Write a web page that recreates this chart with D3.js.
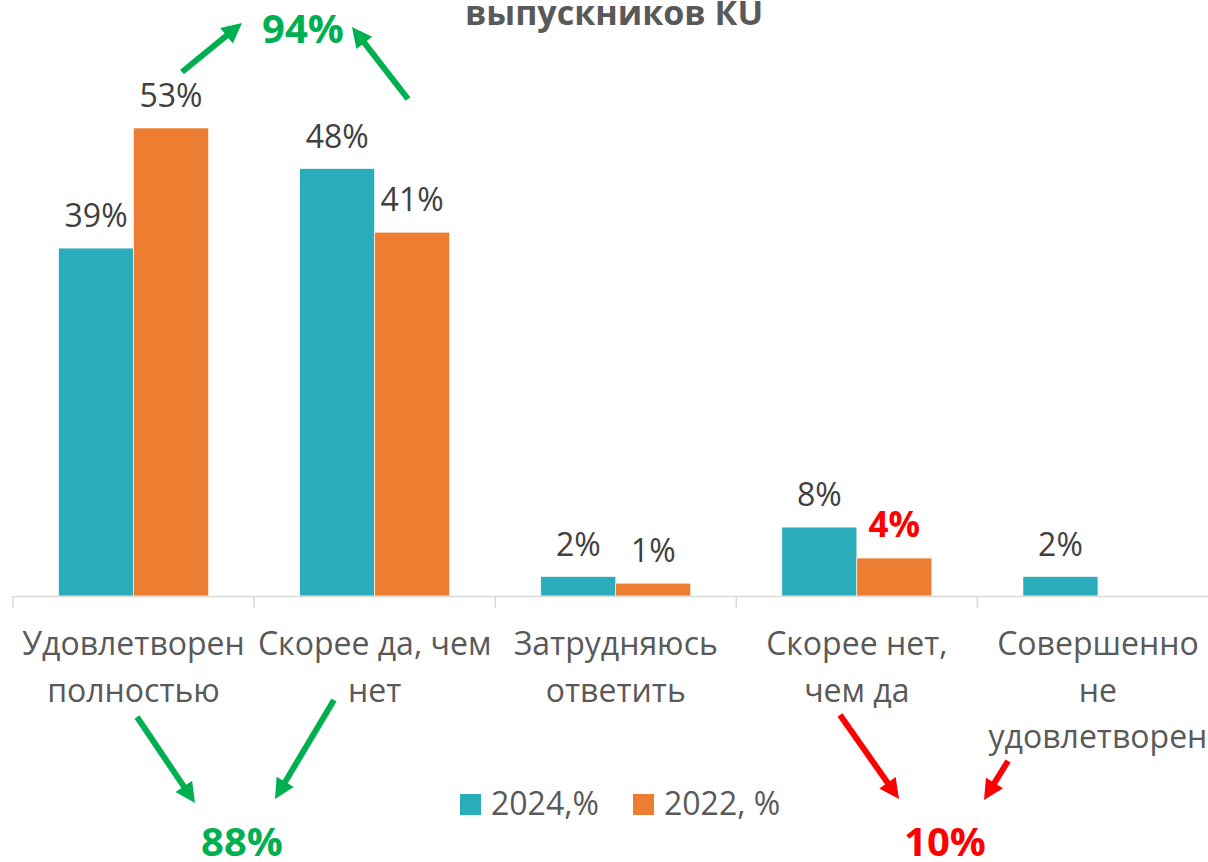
<!DOCTYPE html>
<html>
<head>
<meta charset="utf-8">
<script src="https://cdn.jsdelivr.net/npm/d3@7"></script>
<style>
  body { margin: 0; background: #fff; }
  svg { display: block; font-family: "Open Sans", sans-serif; }
</style>
</head>
<body>
<div id="container"></div>
<script>
// data
let categories = [
  ["Удовлетворен", "полностью"],
  ["Скорее да, чем", "нет"],
  ["Затрудняюсь", "ответить"],
  ["Скорее нет,", "чем да"],
  ["Совершенно", "не", "удовлетворен"]
];
let seriesNames = ["2024,%", "2022, %"];
let values2024 = [39.4, 48.4, 2.2, 7.8, 2.2];
let values2022 = [53.0, 41.2, 1.45, 4.3, null];
let colors = ["#2AACBB", "#ED7D31"];

let w = 1208;
let h = 862;
let baseY = 596;

let svg = d3.select("#container")
  .append("svg")
  .attr("width", w)
  .attr("height", h);

let x0 = d3.scaleBand()
  .domain(d3.range(categories.length))
  .range([13, 13 + 241.1 * 5])
  .paddingInner(0.378)
  .paddingOuter(0.189);

let x1 = d3.scaleBand()
  .domain([0, 1])
  .range([0, x0.bandwidth()]);

let y = d3.scaleLinear()
  .domain([0, 53])
  .range([baseY, 128]);

// title (only the last line is visible)
svg.append("text")
  .attr("x", 614)
  .attr("y", 25)
  .attr("text-anchor", "middle")
  .attr("font-size", 34)
  .attr("font-weight", "bold")
  .attr("fill", "#595959")
  .text("выпускников КU");

// bars
let rows = [];
categories.forEach(function(c, i) {
  rows.push({cat: i, s: 0, v: values2024[i]});
  rows.push({cat: i, s: 1, v: values2022[i]});
});
rows = rows.filter(function(d) { return d.v != null; });

function isHighlight(d) { return d.cat == 3 && d.s == 1; }

svg.selectAll("rect.bar")
  .data(rows)
  .enter()
  .append("rect")
  .attr("class", "bar")
  .attr("x", function(d) { return x0(d.cat) + x1(d.s); })
  .attr("width", x1.bandwidth())
  .attr("y", function(d) { return y(d.v); })
  .attr("height", function(d) { return baseY - y(d.v); })
  .attr("fill", function(d) { return colors[d.s]; })
  .attr("stroke", "#fff")
  .attr("stroke-width", 0.6);

// value labels
svg.selectAll("text.val")
  .data(rows)
  .enter()
  .append("text")
  .attr("class", "val")
  .attr("x", function(d) { return x0(d.cat) + x1(d.s) + x1.bandwidth() / 2; })
  .attr("y", function(d) { return y(d.v) - 21; })
  .attr("text-anchor", "middle")
  .attr("font-size", function(d) { return isHighlight(d) ? 35 : 32; })
  .attr("font-weight", function(d) { return isHighlight(d) ? "bold" : "normal"; })
  .attr("fill", function(d) { return isHighlight(d) ? "#FF0000" : "#404040"; })
  .text(function(d) { return Math.round(d.v) + "%"; });

// axis
let axis = svg.append("g");
axis.append("line")
  .attr("x1", 12).attr("x2", w)
  .attr("y1", baseY + 0.5).attr("y2", baseY + 0.5)
  .attr("stroke", "#d9d9d9").attr("stroke-width", 1.5);
axis.selectAll("line.tick")
  .data(d3.range(categories.length))
  .enter()
  .append("line")
  .attr("class", "tick")
  .attr("x1", function(d) { return x0(d) - x0.step() * x0.paddingOuter(); })
  .attr("x2", function(d) { return x0(d) - x0.step() * x0.paddingOuter(); })
  .attr("y1", baseY).attr("y2", baseY + 12)
  .attr("stroke", "#d9d9d9").attr("stroke-width", 1.5);

// category labels
let catText = svg.selectAll("text.cat")
  .data(categories)
  .enter()
  .append("text")
  .attr("class", "cat")
  .attr("text-anchor", "middle")
  .attr("font-size", 32)
  .attr("fill", "#595959");
catText.selectAll("tspan")
  .data(function(d, i) { return d.map(function(t) { return {t: t, i: i}; }); })
  .enter()
  .append("tspan")
  .attr("x", function(d) { return x0(d.i) + x0.bandwidth() / 2; })
  .attr("y", function(d, j) { return 655 + j * 46.5; })
  .text(function(d) { return d.t; });

// legend
let legend = svg.append("g");
let legendX = [460, 633];
seriesNames.forEach(function(name, i) {
  legend.append("rect")
    .attr("x", legendX[i]).attr("y", 794)
    .attr("width", 21).attr("height", 21)
    .attr("fill", colors[i]);
  legend.append("text")
    .attr("x", legendX[i] + 31).attr("y", 815)
    .attr("font-size", 32)
    .attr("fill", "#595959")
    .text(name);
});

// annotations: arrows and totals
let green = "#00B050";
let red = "#FF0000";
let arrows = [
  {from: [182, 72], to: [242, 23], c: green},
  {from: [408, 99], to: [352, 27], c: green},
  {from: [137, 717], to: [195, 803], c: green},
  {from: [334, 700], to: [275, 799], c: green},
  {from: [840, 715], to: [899, 799], c: red},
  {from: [1008, 761], to: [984, 800], c: red}
];
let totals = [
  {text: "94%", x: 303, y: 43, c: green},
  {text: "88%", x: 242, y: 856, c: green},
  {text: "10%", x: 945, y: 856, c: red}
];

arrows.forEach(function(a) {
  let dx = a.to[0] - a.from[0], dy = a.to[1] - a.from[1];
  let len = Math.sqrt(dx * dx + dy * dy);
  let ux = dx / len, uy = dy / len;
  let headLen = 20, headW = 10;
  let bx = a.to[0] - ux * headLen, by = a.to[1] - uy * headLen;
  svg.append("line")
    .attr("x1", a.from[0]).attr("y1", a.from[1])
    .attr("x2", bx + ux * 2).attr("y2", by + uy * 2)
    .attr("stroke", a.c).attr("stroke-width", 6);
  svg.append("polygon")
    .attr("points", [
      [a.to[0], a.to[1]],
      [bx - uy * headW, by + ux * headW],
      [bx + uy * headW, by - ux * headW]
    ].map(function(p) { return p.join(","); }).join(" "))
    .attr("fill", a.c);
});

svg.selectAll("text.total")
  .data(totals)
  .enter()
  .append("text")
  .attr("class", "total")
  .attr("x", function(d) { return d.x; })
  .attr("y", function(d) { return d.y; })
  .attr("text-anchor", "middle")
  .attr("font-size", 40)
  .attr("font-weight", "bold")
  .attr("fill", function(d) { return d.c; })
  .text(function(d) { return d.text; });
</script>
</body>
</html>
